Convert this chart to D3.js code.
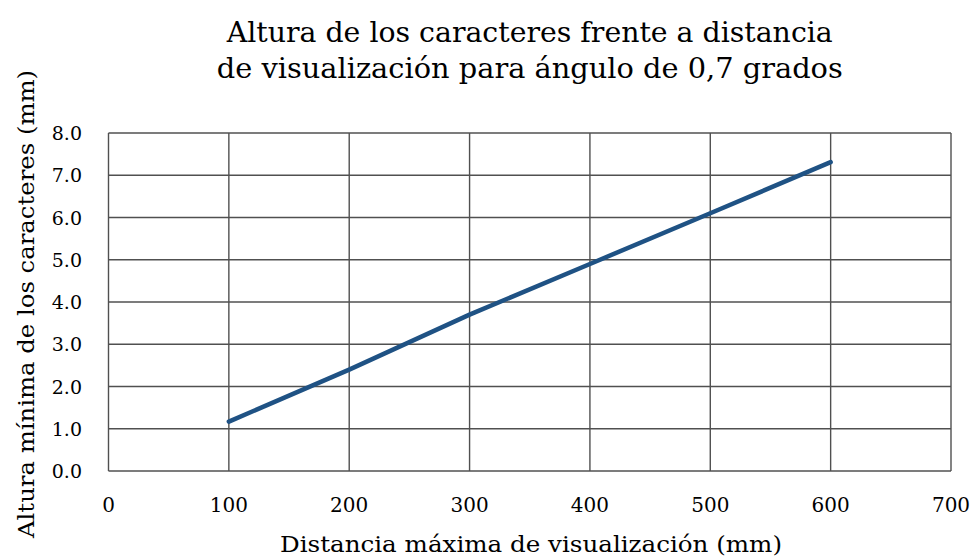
<!DOCTYPE html>
<html>
<head>
<meta charset="utf-8">
<script src="https://cdn.jsdelivr.net/npm/d3@7"></script>
<style>
  html, body { margin: 0; padding: 0; background: #fff; }
  svg text { font-family: "DejaVu Serif", "Liberation Serif", serif; fill: #000; }
</style>
</head>
<body>
<svg id="chart" width="973" height="558"></svg>
<script>
const distances = [100, 200, 300, 400, 500, 600];
const heights = [1.17, 2.4, 3.7, 4.9, 6.1, 7.31];
const xTicks = [0, 100, 200, 300, 400, 500, 600, 700];
const yTicks = [0, 1, 2, 3, 4, 5, 6, 7, 8];
const titleLines = ["Altura de los caracteres frente a distancia", "de visualización para ángulo de 0,7 grados"];
const xTitle = "Distancia máxima de visualización (mm)";
const yTitle = "Altura mínima de los caracteres (mm)";

const svg = d3.select("#chart");
const pLeft = 108.5, pRight = 951, pTop = 133, pBottom = 471;

const x = d3.scaleLinear().domain([0, 700]).range([pLeft, pRight]);
const y = d3.scaleLinear().domain([0, 8]).range([pBottom, pTop]);

const grid = svg.append("g").attr("stroke", "#505050").attr("stroke-width", 1.4);
grid.selectAll("line.v").data(xTicks).join("line").attr("class", "v")
  .attr("x1", d => x(d)).attr("x2", d => x(d)).attr("y1", pTop).attr("y2", pBottom);
grid.selectAll("line.h").data(yTicks).join("line").attr("class", "h")
  .attr("x1", pLeft).attr("x2", pRight).attr("y1", d => y(d)).attr("y2", d => y(d));

// y tick labels
svg.append("g").selectAll("text").data(yTicks).join("text")
  .attr("x", 82).attr("y", d => y(d) + 7)
  .attr("text-anchor", "end").attr("font-size", 19)
  .text(d => d3.format(".1f")(d));

// x tick labels
svg.append("g").selectAll("text").data(xTicks).join("text")
  .attr("x", d => x(d)).attr("y", 512)
  .attr("text-anchor", "middle").attr("font-size", 20)
  .text(d => d);

// line
const line = d3.line().x((d, i) => x(distances[i])).y(d => y(d));
svg.append("path").datum(heights)
  .attr("d", line).attr("fill", "none")
  .attr("stroke", "#1f5284").attr("stroke-width", 4.5).attr("stroke-linecap", "round");

// title
const cx = (pLeft + pRight) / 2;
svg.append("text").attr("x", cx).attr("y", 42).attr("text-anchor", "middle")
  .attr("font-size", 28).attr("textLength", 606).attr("lengthAdjust", "spacingAndGlyphs")
  .text(titleLines[0]);
svg.append("text").attr("x", cx).attr("y", 78).attr("text-anchor", "middle")
  .attr("font-size", 28).attr("textLength", 626).attr("lengthAdjust", "spacingAndGlyphs")
  .text(titleLines[1]);

// axis titles
svg.append("text").attr("x", 531).attr("y", 552).attr("text-anchor", "middle")
  .attr("font-size", 23).attr("textLength", 502).attr("lengthAdjust", "spacingAndGlyphs")
  .text(xTitle);
svg.append("text").attr("transform", "translate(34,304) rotate(-90)").attr("text-anchor", "middle")
  .attr("font-size", 23).attr("textLength", 468).attr("lengthAdjust", "spacingAndGlyphs")
  .text(yTitle);
</script>
</body>
</html>
